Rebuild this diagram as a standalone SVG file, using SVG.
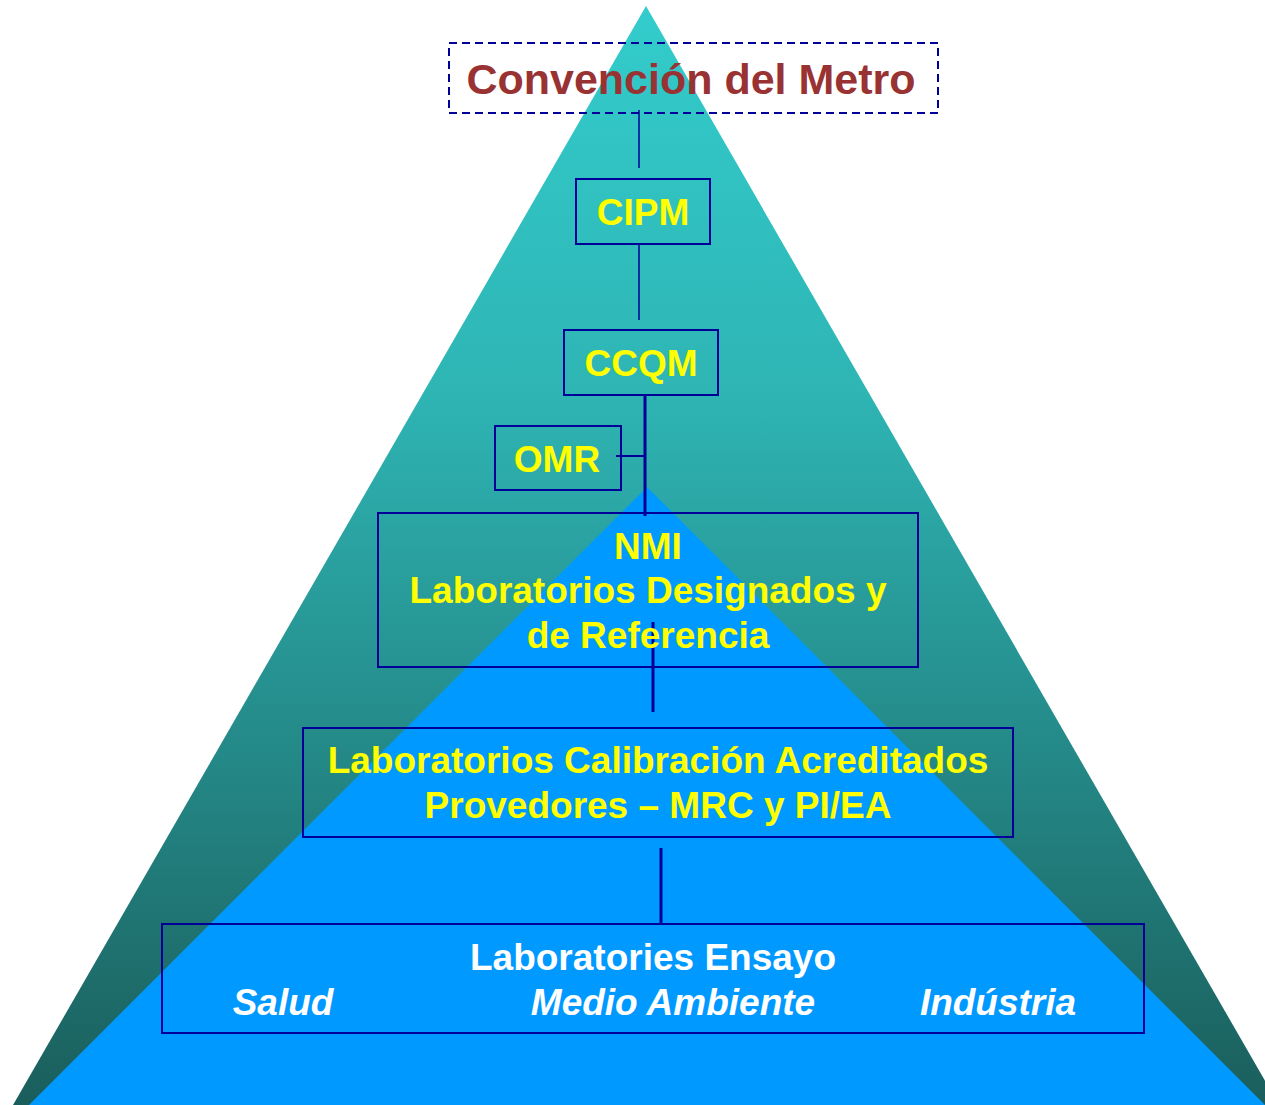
<svg xmlns="http://www.w3.org/2000/svg" width="1265" height="1105" viewBox="0 0 1265 1105">
  <defs>
    <linearGradient id="pyramidShade" gradientUnits="userSpaceOnUse" x1="0" y1="6" x2="0" y2="1105">
      <stop offset="0" stop-color="#33CCCC"/>
      <stop offset="0.35" stop-color="#2EB5B4"/>
      <stop offset="1" stop-color="#1A5E5C"/>
    </linearGradient>
    <style>
      .box { fill: none; stroke: #000099; stroke-width: 2; }
      .dashed { fill: none; stroke: #000099; stroke-width: 2; stroke-dasharray: 8 5; }
      .link { stroke: #000099; fill: none; }
      .thin { stroke-width: 1.5; }
      .thick { stroke-width: 3; }
      .lbl { font-family: "Liberation Sans", Arial, sans-serif; font-weight: bold; text-anchor: middle; }
      .yellow { fill: #FFFF00; font-size: 37px; }
      .white { fill: #FFFFFF; font-size: 37px; }
      .ital { font-style: italic; }
      .title { fill: #993333; font-size: 43px; }
    </style>
  </defs>

  <rect width="1265" height="1105" fill="#FFFFFF"/>

  <!-- background pyramids -->
  <polygon points="646,6 13,1105 1279,1105" fill="url(#pyramidShade)"/>
  <polygon points="647,487 29,1105 1265,1105" fill="#0099FF"/>

  <!-- connectors -->
  <g id="connectors">
    <line class="link thin" x1="639" y1="110" x2="639" y2="168"/>
    <line class="link thin" x1="639" y1="244" x2="639" y2="320"/>
    <line class="link thick" x1="645" y1="395" x2="645" y2="516"/>
    <line class="link" stroke-width="2" x1="616" y1="456" x2="645" y2="456"/>
    <line class="link thick" x1="653" y1="622" x2="653" y2="712"/>
    <line class="link thick" x1="661" y1="848" x2="661" y2="924"/>
  </g>

  <g id="convencion">
    <rect class="dashed" x="449" y="43" width="489" height="70"/>
    <text class="lbl title" x="691" y="94">Convención del Metro</text>
  </g>

  <g id="cipm">
    <rect class="box" x="576" y="179" width="134" height="65"/>
    <text class="lbl yellow" x="643" y="225">CIPM</text>
  </g>

  <g id="ccqm">
    <rect class="box" x="564" y="330" width="154" height="65"/>
    <text class="lbl yellow" x="641" y="376">CCQM</text>
  </g>

  <g id="omr">
    <rect class="box" x="495" y="426" width="126" height="64"/>
    <text class="lbl yellow" x="557" y="472">OMR</text>
  </g>

  <g id="nmi">
    <rect class="box" x="378" y="513" width="540" height="154"/>
    <text class="lbl yellow" x="648" y="559">NMI</text>
    <text class="lbl yellow" x="648" y="603">Laboratorios Designados y</text>
    <text class="lbl yellow" x="648" y="648">de Referencia</text>
  </g>

  <g id="calibracion">
    <rect class="box" x="303" y="728" width="710" height="109"/>
    <text class="lbl yellow" x="658" y="773">Laboratorios Calibración Acreditados</text>
    <text class="lbl yellow" x="658" y="818">Provedores – MRC y PI/EA</text>
  </g>

  <g id="ensayo">
    <rect class="box" x="162" y="924" width="982" height="109"/>
    <text class="lbl white" x="653" y="970">Laboratories Ensayo</text>
    <text class="lbl white ital" x="283" y="1015">Salud</text>
    <text class="lbl white ital" x="673" y="1015">Medio Ambiente</text>
    <text class="lbl white ital" x="998" y="1015">Indústria</text>
  </g>
</svg>
